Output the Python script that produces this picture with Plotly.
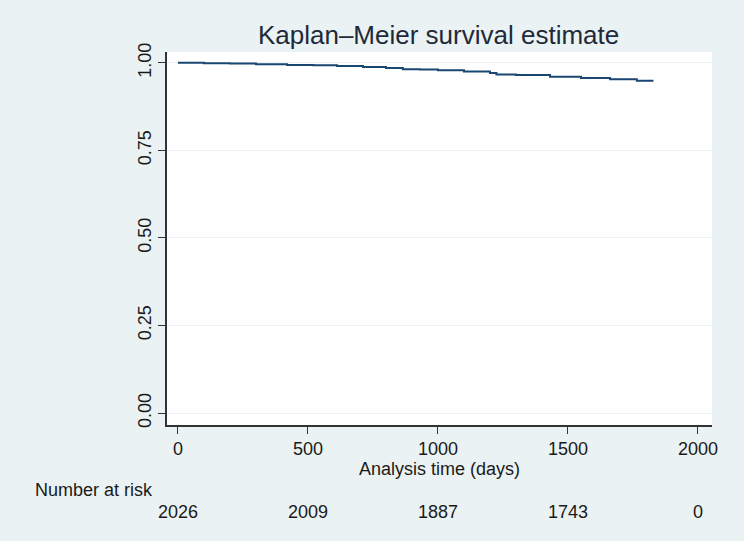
import plotly.graph_objects as go

# Kaplan-Meier estimate
km_time = [0, 100, 200, 300, 420, 520, 612, 712, 800, 865, 930, 1000, 1100,
           1200, 1225, 1300, 1431, 1550, 1662, 1765, 1825]
km_surv = [1.000, 0.999, 0.998, 0.996, 0.994, 0.993, 0.991, 0.988, 0.985, 0.982,
           0.981, 0.979, 0.975, 0.971, 0.967, 0.965, 0.960, 0.957, 0.953, 0.949,
           0.946]

risk_times = [0, 500, 1000, 1500, 2000]
risk_counts = [2026, 2009, 1887, 1743, 0]
y_ticks = [0, 0.25, 0.5, 0.75, 1.0]
y_ticklabels = ["0.00", "0.25", "0.50", "0.75", "1.00"]

FONT = "Liberation Sans, Arial, sans-serif"
BG = "#EAF2F3"
TXT = "#1a1a1a"

fig = go.Figure()
fig.add_trace(go.Scatter(x=km_time, y=km_surv, mode="lines", line_shape="hv",
                         line=dict(color="#1a476f", width=2), showlegend=False,
                         hoverinfo="skip"))

fig.update_layout(
    width=744, height=541,
    paper_bgcolor=BG, plot_bgcolor="white",
    margin=dict(l=167, r=32, t=52, b=116),
    font=dict(family=FONT, color=TXT, size=18),
    title=dict(text="Kaplan–Meier survival estimate", x=0.5895, xanchor="center",
               y=0.935, yanchor="middle", font=dict(size=26, color="#1e2a3a", family=FONT)),
    xaxis=dict(range=[-42, 2054], tickvals=risk_times, ticks="outside", ticklen=7,
               tickcolor="#333", showgrid=False, zeroline=False, showline=True,
               linecolor="#333", linewidth=1.5, tickfont=dict(size=18),
               title=dict(text="Analysis time (days)", font=dict(size=18), standoff=2)),
    yaxis=dict(range=[-0.034, 1.031], tickvals=y_ticks, ticktext=y_ticklabels,
               tickangle=-90, ticks="outside", ticklen=7, tickcolor="#333",
               showgrid=True, gridcolor=BG, gridwidth=1, zeroline=False,
               showline=True, linecolor="#333", linewidth=1.5, tickfont=dict(size=18)),
)

fig.add_annotation(text="Number at risk", xref="paper", yref="paper",
                   x=-0.2459, y=-0.175, xanchor="left", yanchor="middle",
                   showarrow=False, font=dict(size=18, color=TXT))
for t, c in zip(risk_times, risk_counts):
    fig.add_annotation(text=str(c), xref="x", yref="paper", x=t, y=-0.232,
                       xanchor="center", yanchor="middle", showarrow=False,
                       font=dict(size=18, color=TXT))

fig.write_html("out.html", config={"displayModeBar": False},
               post_script="document.body.style.margin='0';"
                           "document.body.style.background='#EAF2F3';")
